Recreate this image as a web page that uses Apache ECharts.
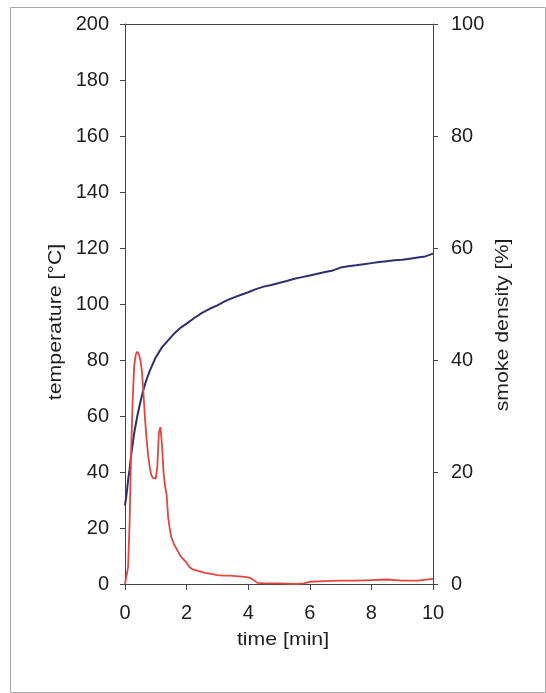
<!DOCTYPE html>
<html>
<head>
<meta charset="utf-8">
<script src="https://cdn.jsdelivr.net/npm/echarts@6/dist/echarts.min.js"></script>
<style>
html,body{margin:0;padding:0;background:#fff;}
#chart{width:546px;height:693px;}
</style>
</head>
<body>
<div id="chart"></div>
<script>
// time [min] for temperature readings
var tempTime = [0,0.05,0.1,0.15,0.2,0.3,0.4,0.5,0.6,0.7,
  0.8,0.9,1.0,1.2,1.4,1.6,1.8,2.0,2.25,2.5,
  2.75,3.0,3.25,3.5,3.75,4.0,4.25,4.5,4.75,5.0,
  5.25,5.5,5.75,6.0,6.25,6.5,6.75,7.0,7.25,7.5,
  7.75,8.0,8.25,8.5,8.75,9.0,9.25,9.5,9.75,10];
// temperature [°C]
var temperature = [28,32,37,41,46,54,60,65,69.5,73,
  76,78.5,81,84.5,87,89.5,91.5,93,95,96.8,
  98.3,99.5,101,102.2,103.2,104.2,105.3,106.2,106.8,107.5,
  108.2,109,109.6,110.2,110.8,111.4,112,113,113.5,113.8,
  114.2,114.6,115,115.3,115.6,115.8,116.2,116.6,117,118];
// time [min] for smoke density readings
var smokeTime = [0,0.05,0.1,0.15,0.2,0.25,0.3,0.35,0.4,0.45,
  0.5,0.55,0.6,0.65,0.7,0.75,0.8,0.85,0.9,0.95,
  1.0,1.05,1.1,1.15,1.2,1.25,1.3,1.35,1.4,1.45,
  1.5,1.6,1.7,1.8,1.9,2.0,2.1,2.2,2.4,2.6,
  2.8,3.0,3.2,3.4,3.6,3.8,4.0,4.1,4.2,4.3,
  4.5,5.0,5.5,5.8,6.0,6.5,7.0,7.5,8.0,8.5,
  9.0,9.5,10];
// smoke density [%]
var smokeDensity = [0,0,3,11,24,33,39,41,41.5,41,
  40,38,34,29.5,26,23,21,19.5,19,19,
  18.8,21,27,28,25,20,17.5,16,12,10,
  8.4,7,6,5,4.4,3.8,3,2.6,2.3,2.0,
  1.8,1.6,1.5,1.5,1.4,1.3,1.2,1.0,0.6,0.2,
  0.1,0.1,0.0,0.1,0.4,0.5,0.6,0.6,0.7,0.8,
  0.6,0.6,0.9];
var xTicks = [0,2,4,6,8,10];
var tempTicks = [0,20,40,60,80,100,120,140,160,180,200];
var smokeTicks = [0,20,40,60,80,100];
var xTitle = 'time [min]';
var yTitleLeft = 'temperature [°C]';
var yTitleRight = 'smoke density [%]';

function pairs(xs, ys){ return xs.map(function(x,i){ return [x, ys[i]]; }); }

var FONT = '"Liberation Sans", Arial, sans-serif';
var AX = '#444';
var TXT = '#1e1e1e';
var chart = echarts.init(document.getElementById('chart'), null, {renderer:'canvas'});
chart.setOption({
  animation:false,
  backgroundColor:'#fff',
  grid:{left:125, right:113, top:24, bottom:109, containLabel:false},
  xAxis:[{
    type:'value', min:xTicks[0], max:xTicks[xTicks.length-1], interval:2,
    axisLine:{show:true, onZero:false, lineStyle:{color:AX, width:1}},
    axisTick:{show:true, inside:false, length:6, lineStyle:{color:AX}},
    axisLabel:{margin:19, fontSize:20, color:TXT, fontFamily:FONT},
    splitLine:{show:false}
  },{
    type:'value', position:'top', min:0, max:10, interval:2,
    axisLine:{show:true, onZero:false, lineStyle:{color:AX, width:1}},
    axisTick:{show:false}, axisLabel:{show:false}, splitLine:{show:false}
  }],
  yAxis:[{
    type:'value', position:'left', min:tempTicks[0], max:tempTicks[tempTicks.length-1], interval:20,
    axisLine:{show:true, onZero:false, lineStyle:{color:AX, width:1}},
    axisTick:{show:true, inside:false, length:5, lineStyle:{color:AX}},
    axisLabel:{margin:16, fontSize:20, color:TXT, fontFamily:FONT},
    splitLine:{show:false}
  },{
    type:'value', position:'right', min:smokeTicks[0], max:smokeTicks[smokeTicks.length-1], interval:20,
    axisLine:{show:true, onZero:false, lineStyle:{color:AX, width:1}},
    axisTick:{show:true, inside:false, length:5, lineStyle:{color:AX}},
    axisLabel:{margin:18, fontSize:20, color:TXT, fontFamily:FONT},
    splitLine:{show:false}
  },{
    type:'value', position:'right', min:0, max:100, interval:20,
    axisLine:{show:false},
    axisTick:{show:true, inside:true, length:5, lineStyle:{color:AX}},
    axisLabel:{show:false}, splitLine:{show:false}
  }],
  series:[{
    name:'temperature', type:'line', xAxisIndex:0, yAxisIndex:0,
    data:pairs(tempTime, temperature), showSymbol:false, smooth:false,
    lineStyle:{color:'#2e2f6e', width:2}, z:2
  },{
    name:'smoke density', type:'line', xAxisIndex:0, yAxisIndex:1,
    data:pairs(smokeTime, smokeDensity), showSymbol:false, smooth:false,
    lineStyle:{color:'#e0473f', width:1.8}, z:3
  }],
  graphic:[
    {type:'rect', left:8, top:5, shape:{width:535, height:685}, style:{fill:null, stroke:'#a8a8a8', lineWidth:1}, silent:true},
    {type:'text', x:283, y:640, scaleX:1.12, style:{text:xTitle, font:'19px '+FONT, fill:TXT, textAlign:'center', textVerticalAlign:'middle'}},
    {type:'text', x:56, y:322, rotation:Math.PI/2, scaleX:1.12, style:{text:yTitleLeft, font:'19px '+FONT, fill:TXT, textAlign:'center', textVerticalAlign:'middle'}},
    {type:'text', x:503, y:325, rotation:Math.PI/2, scaleX:1.12, style:{text:yTitleRight, font:'19px '+FONT, fill:TXT, textAlign:'center', textVerticalAlign:'middle'}}
  ]
});
</script>
</body>
</html>
